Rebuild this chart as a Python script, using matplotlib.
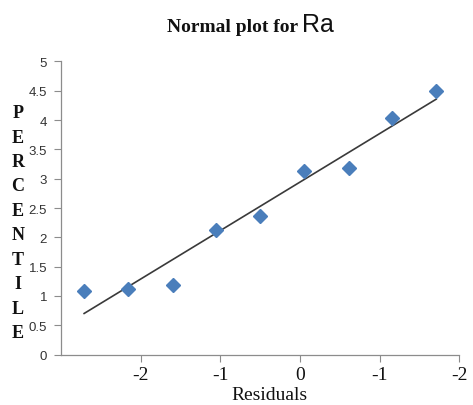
import numpy as np
import matplotlib
matplotlib.use("Agg")
import matplotlib.pyplot as plt

# Data
residuals = [-2.71, -2.16, -1.60, -1.06, -0.50, 0.05, 0.61, 1.15, 1.71]
percentile = [1.09, 1.12, 1.19, 2.13, 2.36, 3.13, 3.19, 4.04, 4.50]
x_ticks = [-2, -1, 0, 1, 2]
x_tick_labels = ["-2", "-1", "0", "-1", "-2"]
y_ticks = [0, 0.5, 1, 1.5, 2, 2.5, 3, 3.5, 4, 4.5, 5]
y_tick_labels = ["0", "0.5", "1", "1.5", "2", "2.5", "3", "3.5", "4", "4.5", "5"]
ylabel_letters = list("PERCENTILE")

fig = plt.figure(figsize=(4.73, 4.06), dpi=100)
ax = fig.add_axes([0.129, 0.124, 0.842, 0.7224])

ax.plot(residuals, percentile, linestyle="none", marker="D", markersize=7,
        color="#4A7EBB", zorder=3)

slope, intercept = np.polyfit(residuals, percentile, 1)
xr = np.array([min(residuals), max(residuals)])
ax.plot(xr, slope * xr + intercept, color="#3a3a3a", linewidth=1.2, zorder=2)

ax.set_xlim(-3, 2)
ax.set_ylim(0, 5)
ax.set_xticks(x_ticks)
ax.set_xticklabels(x_tick_labels, fontfamily="Liberation Serif", fontsize=14,
                   color="#111111")
ax.set_yticks(y_ticks)
ax.set_yticklabels(y_tick_labels, fontfamily="Liberation Sans", fontsize=9.5,
                   color="#333333")
ax.tick_params(axis="both", direction="out", length=5, width=0.8,
               color="#8c8c8c")
ax.tick_params(axis="x", pad=3)
ax.tick_params(axis="y", pad=5)
for s in ["top", "right"]:
    ax.spines[s].set_visible(False)
for s in ["left", "bottom"]:
    ax.spines[s].set_color("#8c8c8c")
    ax.spines[s].set_linewidth(0.9)

ax.set_xlabel("Residuals", fontfamily="Liberation Serif", fontsize=14,
              color="#111111", labelpad=2)
ax.xaxis.label.set_x(0.523)

# stacked vertical y label
fig.text(0.038, 0.449, "\n".join(ylabel_letters), fontfamily="Liberation Serif",
         fontweight="bold", fontsize=13, ha="center", va="center",
         linespacing=1.575, color="#111111")

# title
fig.text(0.630, 0.922, "Normal plot for", fontfamily="Liberation Serif",
         fontweight="bold", fontsize=14, ha="right", va="baseline",
         color="#111111")
fig.text(0.638, 0.922, "Ra", fontfamily="Liberation Sans",
         fontsize=18, ha="left", va="baseline", color="#111111")

fig.savefig("out.png", dpi=100)
